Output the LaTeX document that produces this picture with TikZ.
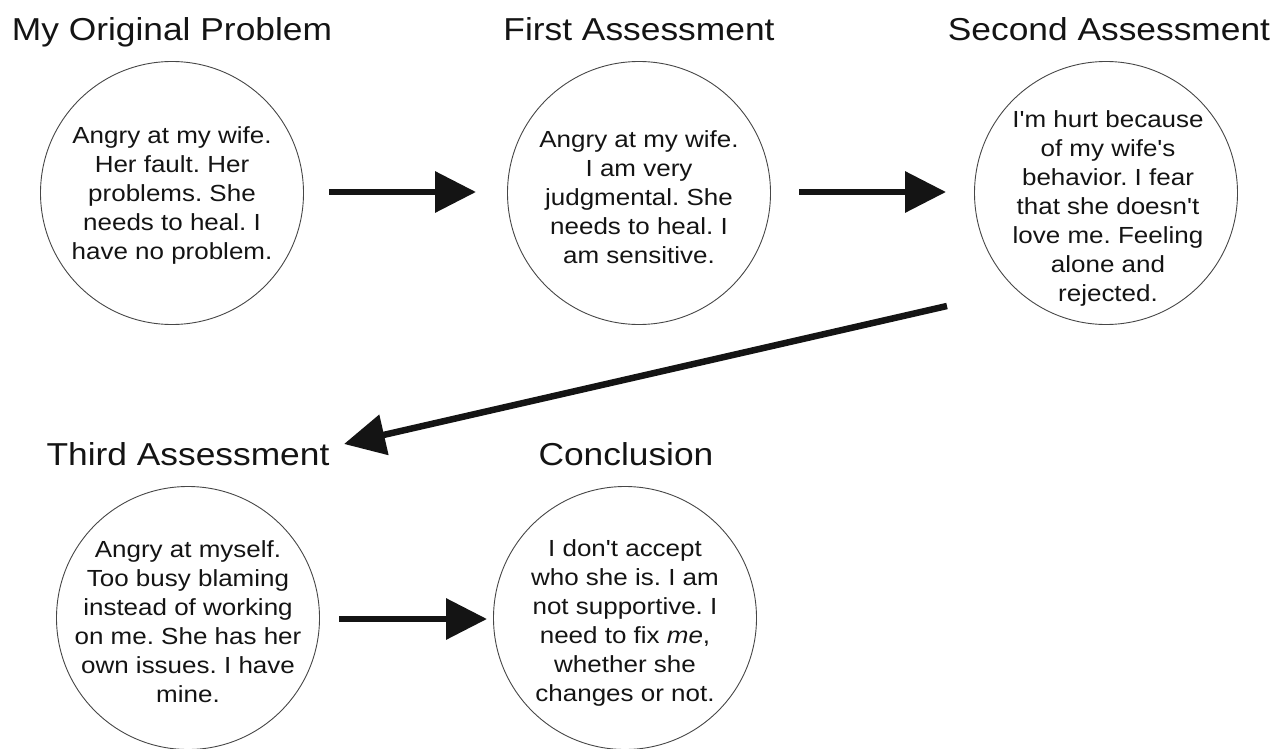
\documentclass[tikz,border=0pt]{standalone}
\usepackage{fontspec}
\newfontfamily\diafont[FakeStretch=1.115]{Liberation Sans}
\usetikzlibrary{arrows.meta}
\begin{document}
\frenchspacing
\begin{tikzpicture}[x=1pt,y=-1pt,
  circ/.style={circle,draw=black!72,line width=0.9pt,minimum size=263pt,inner sep=0pt},
  ttl/.style={anchor=base,inner sep=0pt,text=black!92,font=\diafont\frenchspacing\fontsize{31.7}{38}\selectfont},
  body/.style={anchor=north,align=center,inner sep=0pt,text=black!92,font=\diafont\frenchspacing\fontsize{23.3}{29}\selectfont},
  arr/.style={draw=black!92,line width=6.5pt,-{Triangle[length=41pt,width=40pt]}}]
\useasboundingbox (0,0) rectangle (1287,749);
% circles
\node[circ] (c1) at (172,193) {};
\node[circ] (c2) at (639,193) {};
\node[circ] (c3) at (1106,193) {};
\node[circ] (c4) at (188,618) {};
\node[circ] (c5) at (625,618) {};
% titles
\node[ttl] (h1) at (172,41) {My Original Problem};
\node[ttl] (h2) at (639,41) {First Assessment};
\node[ttl] (h3) at (1109,41) {Second Assessment};
\node[ttl] (h4) at (188,465) {Third Assessment};
\node[ttl] (h5) at (626,465) {Conclusion};
% texts
\node[body] (t1) at (172,122.7) {\strut Angry at my wife.\\Her fault. Her\\problems. She\\needs to heal. I\\have no problem.};
\node[body] (t2) at (639,126.7) {\strut Angry at my wife.\\I am very\\judgmental. She\\needs to heal. I\\am sensitive.};
\node[body] (t3) at (1108,106.7) {\strut I'm hurt because\\of my wife's\\behavior. I fear\\that she doesn't\\love me. Feeling\\alone and\\rejected.};
\node[body] (t4) at (188,536.7) {\strut Angry at myself.\\Too busy blaming\\instead of working\\on me. She has her\\own issues. I have\\mine.};
\node[body] (t5) at (625,535.7) {\strut I don't accept\\who she is. I am\\not supportive. I\\need to fix \textit{me},\\whether she\\changes or not.};
% arrow ends
\coordinate (a1s) at (329,192);
\coordinate (a1e) at (476,192);
\coordinate (a2s) at (799,192);
\coordinate (a2e) at (946,192);
\coordinate (a3s) at (947,306);
\coordinate (a3e) at (344,444);
\coordinate (a4s) at (339,619);
\coordinate (a4e) at (487,619);
\draw[arr] (a1s) -- (a1e);
\draw[arr] (a2s) -- (a2e);
\draw[arr] (a3s) -- (a3e);
\draw[arr] (a4s) -- (a4e);
\end{tikzpicture}
\end{document}
